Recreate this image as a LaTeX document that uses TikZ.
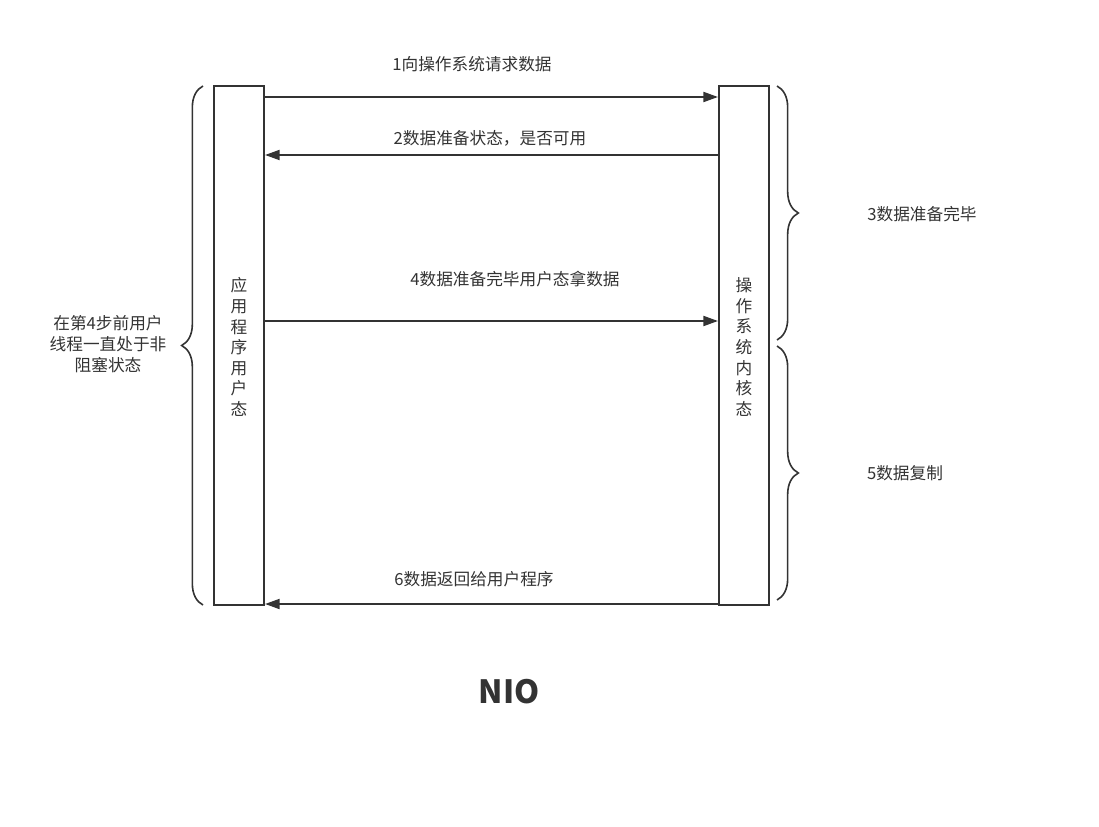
\documentclass[tikz,border=0pt]{standalone}
\usepackage{fontspec}
\setmainfont{Noto Sans CJK SC}
\usepackage{xcolor}
\usetikzlibrary{arrows.meta,positioning,decorations.pathreplacing}
\definecolor{ink}{HTML}{333333}

\begin{document}
\begin{tikzpicture}[
        x=0.75pt, y=-0.75pt,
        every node/.style={text=ink, font=\fontsize{12.5}{15.4}\selectfont},
        stack/.style={draw=ink, line width=1.5pt, minimum width=37.5pt, minimum height=389pt, inner sep=0pt},
        vtext/.style={align=center, font=\fontsize{12.5}{15.4}\selectfont},
        msg/.style={draw=ink, line width=1.5pt, -{Triangle[length=11pt,width=7.5pt]}},
        curly/.style={draw=ink, line width=1.2pt, decorate, decoration={brace, amplitude=16pt}},
        lbl/.style={inner sep=1pt}
    ]
    \useasboundingbox (0,0) rectangle (1099,827);

    % Two sides
    \node[stack] (app) at (239,345.5) {};
    \node[stack] (kern) at (744,345.5) {};
    \node[vtext] (apptxt) at (239,347) {应\\用\\程\\序\\用\\户\\态};
    \node[vtext] (kerntxt) at (744,347) {操\\作\\系\\统\\内\\核\\态};

    % Messages
    \draw[msg] (app.east |- 0,97) -- (kern.west |- 0,97);
    \draw[msg] (kern.west |- 0,155) -- (app.east |- 0,155);
    \draw[msg] (app.east |- 0,321) -- (kern.west |- 0,321);
    \draw[msg] (kern.west |- 0,604) -- (app.east |- 0,604);

    \node[lbl] (m1) at (472,64) {1向操作系统请求数据};
    \node[lbl] (m2) at (490,138) {2数据准备状态，是否可用};
    \node[lbl] (m4) at (515,279) {4数据准备完毕用户态拿数据};
    \node[lbl] (m6) at (474,579) {6数据返回给用户程序};

    % Braces
    \coordinate (lb1) at (203,605);
    \coordinate (lb2) at (203,86);
    \draw[curly] (lb1) -- (lb2);
    \node[vtext, font=\fontsize{12.5}{15.75}\selectfont] (waiting) at (108,344) {在第4步前用户\\线程一直处于非\\阻塞状态};

    \coordinate (rb1) at (777,86);
    \coordinate (rb2) at (777,340);
    \coordinate (rb3) at (777,346);
    \coordinate (rb4) at (777,600);
    \draw[curly] (rb1) -- (rb2);
    \draw[curly] (rb3) -- (rb4);
    \node[lbl] (ready) at (922,214) {3数据准备完毕};
    \node[lbl] (copy) at (905,473) {5数据复制};

    % Title
    \node (title) at (509,692) {\fontsize{24}{28}\selectfont\bfseries NIO};
\end{tikzpicture}
\end{document}
